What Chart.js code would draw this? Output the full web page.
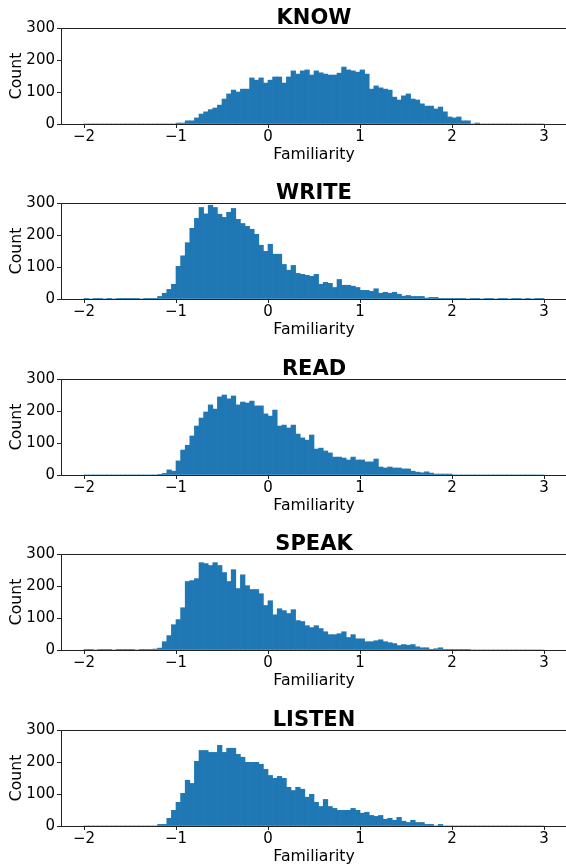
<!DOCTYPE html>
<html>
<head>
<meta charset="utf-8">
<script src="https://cdn.jsdelivr.net/npm/chart.js@4.4.1/dist/chart.umd.min.js"></script>
<style>
  html, body { margin: 0; padding: 0; background: #fff; overflow: hidden; }
  #wrap { position: relative; width: 566px; height: 865px; overflow: hidden; }
  canvas { position: absolute; left: 0; }
</style>
</head>
<body>
<div id="wrap"></div>
<script>
// ---- data ----
const panelTitles = ['KNOW', 'WRITE', 'READ', 'SPEAK', 'LISTEN'];
const binStart = -2;
const binWidth = 0.05;
const binCount = 100;
const xTickValues = [-2, -1, 0, 1, 2, 3];
const yTickValues = [0, 50, 100, 150, 200, 250, 300];
const xAxisLabel = 'Familiarity';
const yAxisLabel = 'Count';

const knowCounts = [
  0,0,0,0,0,0,0,0,0,0,
  0,0,0,0,0,0,0,0,0,0,
  3,3,10,10,19,31,38,45,50,59,
  78,94,106,100,109,109,144,137,144,128,
  137,147,147,128,147,166,156,166,169,153,
  166,160,156,153,153,159,178,169,166,162,
  169,156,109,119,113,109,106,84,75,88,
  94,78,75,63,56,56,47,53,38,22,
  19,22,10,10,0,3,0,0,0,0,
  0,0,0,0,0,0,0,0,0,0
];
const writeCounts = [
  1,0,1,1,0,1,0,1,1,1,
  1,1,0,1,1,2,8,18,30,46,
  102,135,176,221,252,286,266,293,286,265,
  255,271,283,249,236,227,218,202,168,149,
  171,140,140,108,90,105,80,77,74,71,
  77,46,52,49,36,61,43,43,40,36,
  27,27,24,32,18,21,18,21,15,9,
  11,8,8,8,3,5,5,2,2,1,
  1,1,1,0,1,1,0,1,1,0,
  1,1,0,1,1,0,1,0,1,1
];
const readCounts = [
  0,0,0,0,0,0,0,0,0,0,
  0,0,0,0,0,0,2,5,16,12,
  44,78,93,122,153,178,197,219,206,244,
  250,238,247,219,228,225,231,216,216,191,
  184,203,153,156,147,156,128,116,109,125,
  81,84,75,69,56,56,53,47,56,47,
  47,41,41,50,25,22,25,22,22,19,
  19,12,9,7,10,6,3,3,3,3,
  0,0,0,0,0,0,0,0,0,0,
  0,0,0,0,0,0,0,0,0,0
];
const speakCounts = [
  1,1,0,1,1,1,0,1,1,1,
  1,0,1,1,1,3,6,26,45,79,
  95,132,214,217,223,273,270,264,273,264,
  242,214,251,192,235,201,189,189,176,139,
  154,110,129,123,114,126,92,89,76,70,
  76,67,57,48,48,51,57,39,48,35,
  35,26,26,29,32,26,23,20,14,17,
  15,17,10,7,7,1,4,7,1,1,
  1,1,1,1,0,0,0,0,0,0,
  0,0,0,0,0,0,0,0,0,0
];
const listenCounts = [
  0,0,0,0,0,0,0,0,0,0,
  0,0,0,0,0,0,5,5,24,49,
  74,102,143,133,202,236,236,230,230,252,
  230,243,243,224,215,199,199,199,193,177,
  158,149,155,149,121,111,121,115,90,99,
  74,61,83,61,55,49,49,49,55,49,
  40,43,33,30,33,21,24,18,27,15,
  11,18,11,11,5,5,0,5,0,0,
  0,0,0,0,0,0,0,0,0,0,
  0,0,0,0,0,0,0,0,0,0
];
const panelCounts = [knowCounts, writeCounts, readCounts, speakCounts, listenCounts];

// ---- rendering ----
const FONT = '"DejaVu Sans", "Liberation Sans", sans-serif';
Chart.defaults.font.family = FONT;
Chart.defaults.color = '#000';

const binCenters = [];
for (let i = 0; i < binCount; i++) binCenters.push(binStart + binWidth * (i + 0.5));

const fmt = v => (v < 0 ? '\u2212' + Math.abs(v) : String(v));

const framePlugin = {
  id: 'frameAndTitle',
  afterDraw(chart) {
    const { ctx, chartArea } = chart;
    ctx.save();
    ctx.strokeStyle = '#222';
    ctx.lineWidth = 1;
    ctx.beginPath();
    const y = Math.round(chartArea.top) + 0.5;
    ctx.moveTo(chartArea.left, y);
    ctx.lineTo(chartArea.right, y);
    ctx.stroke();
    ctx.fillStyle = '#000';
    ctx.font = 'bold 21px ' + FONT;
    ctx.textAlign = 'center';
    ctx.textBaseline = 'alphabetic';
    ctx.fillText(chart.options.plugins.frameAndTitle.text, (chartArea.left + chartArea.right) / 2, 24);
    ctx.restore();
  }
};

const wrap = document.getElementById('wrap');
panelTitles.forEach((title, p) => {
  const c = document.createElement('canvas');
  c.width = 568; c.height = 175;
  c.style.width = '568px'; c.style.height = '175px';
  c.style.top = Math.round(175.4 * p) + 'px';
  wrap.appendChild(c);
  const counts = panelCounts[p];
  new Chart(c, {
    type: 'bar',
    data: {
      datasets: [{
        data: binCenters.map((x, i) => ({ x: x, y: counts[i] })),
        backgroundColor: '#1f77b4',
        borderWidth: 0,
        barPercentage: 1,
        categoryPercentage: 1
      }]
    },
    options: {
      responsive: false,
      animation: false,
      devicePixelRatio: 1,
      layout: { padding: { top: 28, right: 1, left: 0, bottom: 0 } },
      plugins: {
        legend: { display: false },
        tooltip: { enabled: false },
        title: { display: false },
        frameAndTitle: { text: title }
      },
      scales: {
        x: {
          type: 'linear',
          min: -2.25, max: 3.25,
          offset: false,
          grid: { display: true, drawOnChartArea: false, drawTicks: true, tickLength: 4, color: '#222', offset: false },
          border: { display: true, color: '#222', width: 1 },
          afterBuildTicks: s => { s.ticks = xTickValues.map(v => ({ value: v })); },
          ticks: { font: { size: 15 }, color: '#000', padding: 0, maxRotation: 0, callback: v => fmt(v) },
          title: { display: true, text: xAxisLabel, font: { size: 15.7 }, color: '#000', padding: { top: 0, bottom: 11 } },
          afterFit: s => { s.height = 51; }
        },
        y: {
          min: 0, max: 300,
          grid: { display: true, drawOnChartArea: false, drawTicks: true, tickLength: 4, color: '#222' },
          border: { display: true, color: '#222', width: 1 },
          afterBuildTicks: s => { s.ticks = yTickValues.map(v => ({ value: v })); },
          ticks: { font: { size: 15 }, color: '#000', padding: 2, callback: v => fmt(v) },
          title: { display: true, text: yAxisLabel, font: { size: 15.7 }, color: '#000', padding: { top: 7.5, bottom: 0 } },
          afterFit: s => { s.width = 61; }
        }
      }
    },
    plugins: [framePlugin]
  });
});
</script>
</body>
</html>
